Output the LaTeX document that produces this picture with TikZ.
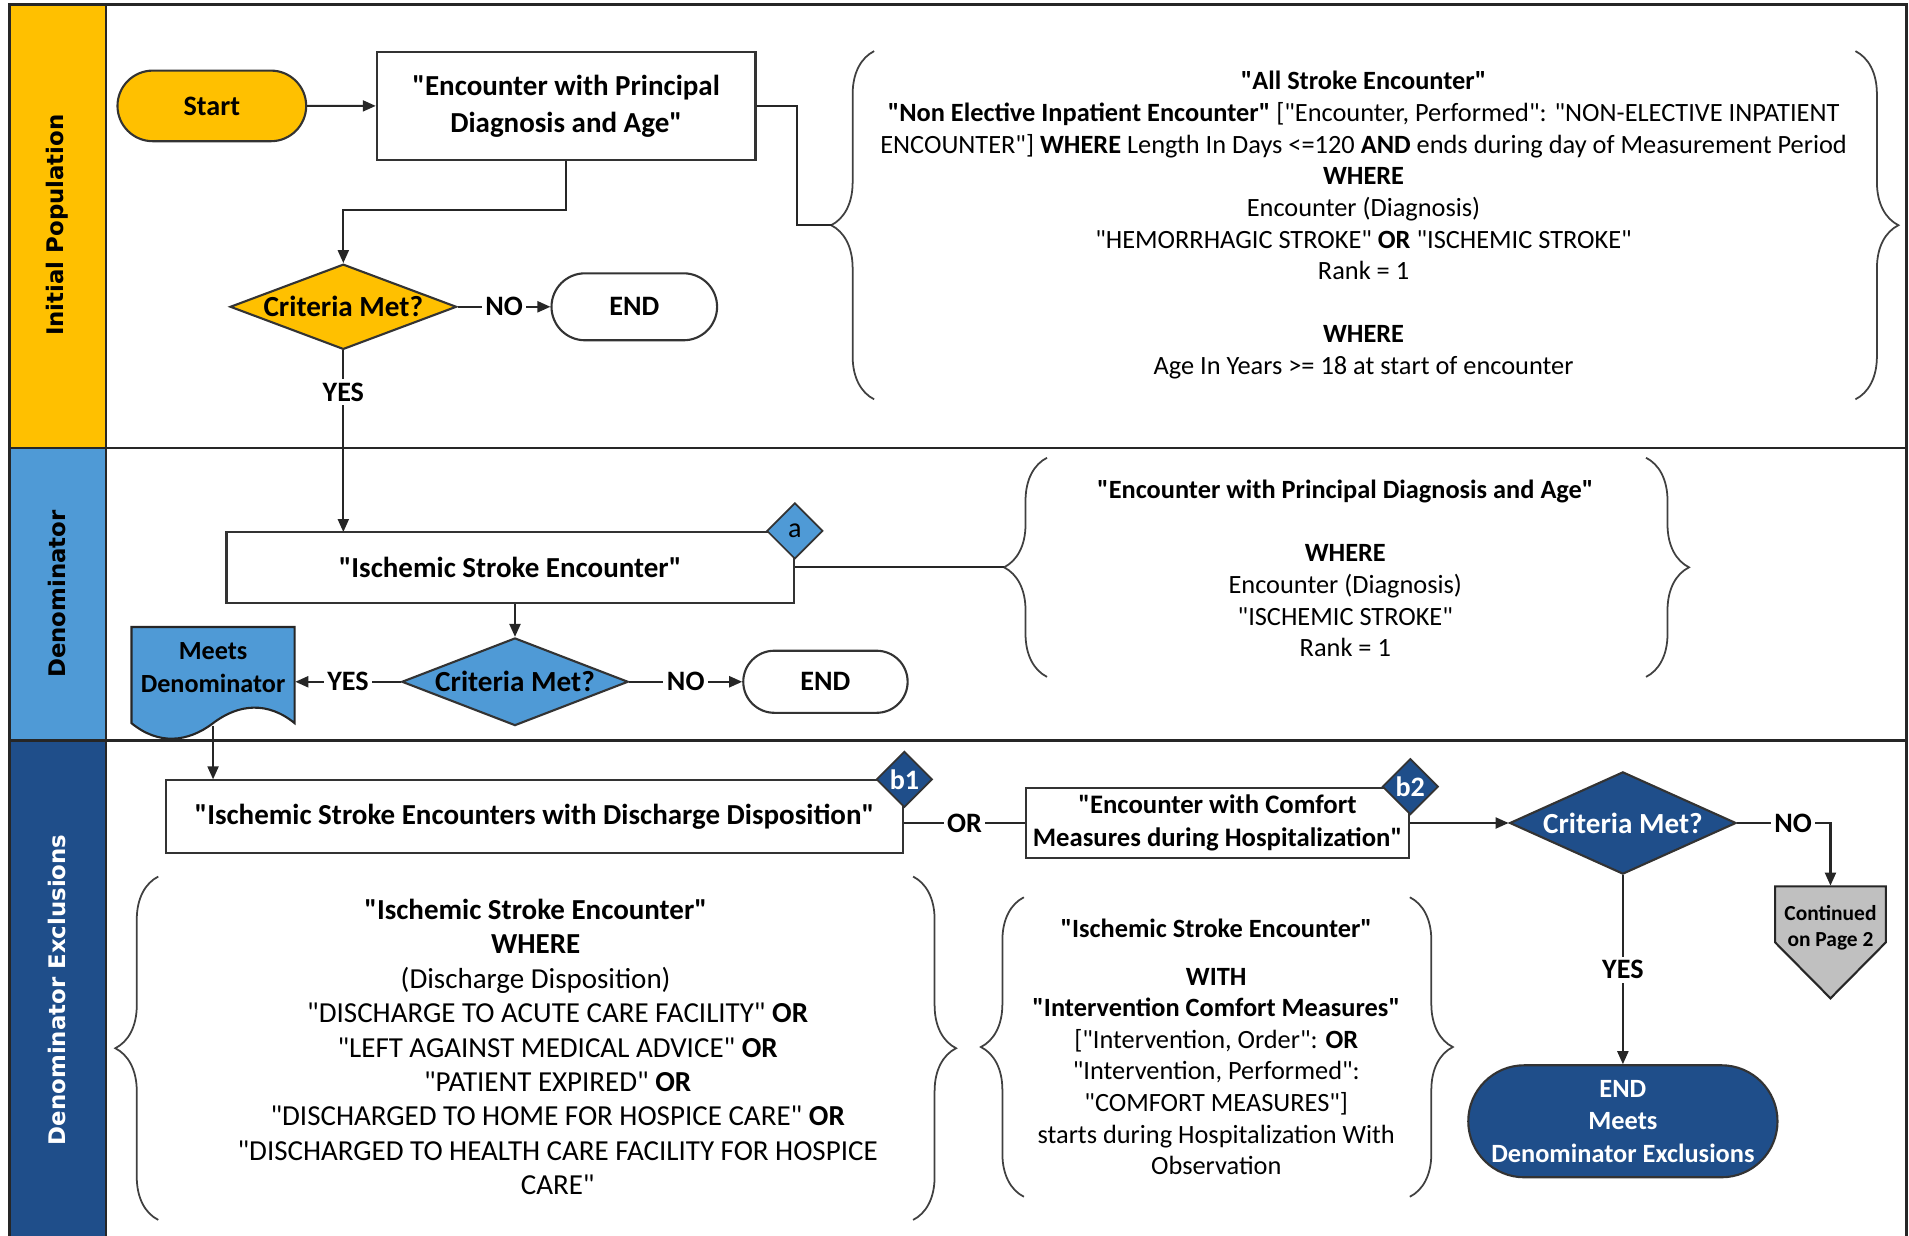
\documentclass[tikz,border=0pt]{standalone}
\usepackage{fontspec}
\setmainfont{Carlito}[Ligatures=TeXOff]
\newfontfamily\lanefont{DejaVu Sans}
\usetikzlibrary{shapes.geometric,shapes.misc,arrows.meta,decorations.pathreplacing}

\definecolor{ipyellow}{HTML}{FFC000}
\definecolor{denblue}{HTML}{4F9AD6}
\definecolor{excblue}{HTML}{1F4E8A}
\definecolor{contgray}{HTML}{C0C0C0}

\tikzset{
  box/.style={draw=black!80, line width=0.6pt, fill=white, align=center, inner sep=0pt, font=\bfseries\fontsize{8.25}{10.6}\selectfont},
  pill/.style={rounded rectangle, draw=black!80, line width=0.6pt, align=center, inner sep=0pt, font=\bfseries\fontsize{8}{9.5}\selectfont},
  decision/.style={diamond, draw=black!80, line width=0.6pt, aspect=2.6, inner sep=0pt, font=\bfseries\fontsize{8.3}{9.5}\selectfont},
  tag/.style={diamond, draw=black!80, line width=0.5pt, aspect=1, inner sep=0pt, font=\fontsize{8}{9}\selectfont},
  rule/.style={align=center, inner sep=0pt, font=\fontsize{7.5}{9}\selectfont},
  lbl/.style={fill=white, inner sep=1pt, font=\bfseries\fontsize{8}{9}\selectfont},
  lanelbl/.style={rotate=90, font=\lanefont\bfseries\fontsize{6.5}{8}\selectfont},
  lane/.style={draw=black!85, line width=0.8pt},
  flow/.style={draw=black!85, line width=0.6pt},
  arr/.style={flow, -{Triangle[length=1.3mm, width=1.1mm]}},
  lbrace/.style={draw=black!75, line width=0.5pt, decorate, decoration={brace, amplitude=0.43cm}}
}

\begin{document}
\begin{tikzpicture}[x=0.012175cm, y=-0.012175cm]
\def\pu{0.012175cm}
\def\orshift{\hspace*{0.44cm}}
\useasboundingbox (0,0) rectangle (1568,1015);

% swim lanes
\draw[lane, fill=ipyellow] (8,4) rectangle (87,368);
\draw[lane] (87,4) rectangle (1566,368);
\draw[lane, fill=denblue] (8,368) rectangle (87,608);
\draw[lane] (87,368) rectangle (1566,608);
\draw[lane, fill=excblue] (8,608) rectangle (87,1030);
\draw[lane] (87,608) rectangle (1566,1030);
\node[lanelbl] (iplane) at (47,185) {Initial Population};
\node[lanelbl] (denlane) at (47,488) {Denominator};
\node[lanelbl, text=white] (exclane) at (47,813) {Denominator Exclusions};

% initial population
\node[pill, fill=ipyellow, minimum width=155*\pu, minimum height=58*\pu] (start) at (174,87) {Start};
\node[box, minimum width=311*\pu, minimum height=89*\pu] (encdx) at (465,87) {"Encounter with Principal\\Diagnosis and Age"};
\node[decision, fill=ipyellow, minimum width=186*\pu, minimum height=70*\pu] (crit1) at (282,252) {Criteria Met?};
\node[pill, minimum width=136*\pu, minimum height=55*\pu] (end1) at (521,252) {END};
\node[rule] (ipt) at (1120,185) {\textbf{"All Stroke Encounter"}\\
\textbf{"Non Elective Inpatient Encounter"} ["Encounter, Performed": "NON-ELECTIVE INPATIENT\\
ENCOUNTER"] \textbf{WHERE} Length In Days <=120 \textbf{AND} ends during day of Measurement Period\\
\textbf{WHERE}\\
Encounter (Diagnosis)\\
"HEMORRHAGIC STROKE" \textbf{OR} "ISCHEMIC STROKE"\\
Rank = 1\\[9pt]
\textbf{WHERE}\\
Age In Years >= 18 at start of encounter};
\draw[lbrace] (718,328) -- (718,42);
\draw[lbrace] (1524,42) -- (1524,328);
\coordinate (ipbr) at (683,185);

\draw[arr] (start) -- (encdx);
\draw[flow] (encdx.east) -- ++(33,0) |- (ipbr);
\draw[arr] (encdx.south) -- ++(0,40) -| (crit1.north);
\draw[arr] (crit1.east) -- node[lbl]{NO} (end1.west);
\draw[arr] (crit1.south) -- node[lbl, pos=0.23]{YES} (crit1.south |- 0,437);

% denominator
\node[box, minimum width=466*\pu, minimum height=58*\pu] (isenc) at (419,466) {"Ischemic Stroke Encounter"};
\node[tag, fill=denblue, minimum size=46*\pu] (a) at (isenc.north east) {a};
\node[decision, fill=denblue, minimum width=186*\pu, minimum height=72*\pu] (crit2) at (423,560) {Criteria Met?};
\node[pill, minimum width=135*\pu, minimum height=51*\pu] (end2) at (678,560) {END};
\draw[flow, fill=denblue] (108,594) -- (108,515) -- (242,515) -- (242,594) .. controls (220,576) and (196,578) .. (175,594) .. controls (154,610) and (130,612) .. (108,594) -- cycle;
\node[align=center, inner sep=0pt, minimum width=134*\pu, font=\bfseries\fontsize{7.45}{9.4}\selectfont] (mden) at (175,548) {Meets\\Denominator};
\coordinate (mdenout) at (175,596);
\node[rule] (dent) at (1105,467) {\textbf{"Encounter with Principal Diagnosis and Age"}\\[9pt]
\textbf{WHERE}\\
Encounter (Diagnosis)\\
"ISCHEMIC STROKE"\\
Rank = 1};
\draw[lbrace] (860,556) -- (860,376);
\draw[lbrace] (1352,376) -- (1352,556);
\coordinate (denbr) at (825,466);

\draw[flow] (isenc.east) -- (denbr);
\draw[arr] (isenc.south -| crit2.north) -- (crit2.north);
\draw[arr] (crit2.west) -- node[lbl]{YES} (crit2.west -| mden.east);
\draw[arr] (crit2.east) -- node[lbl]{NO} (end2.west);

% denominator exclusions
\node[box, minimum width=606*\pu, minimum height=60*\pu] (isdd) at (439,671) {"Ischemic Stroke Encounters with Discharge Disposition"};
\node[tag, fill=excblue, text=white, font=\bfseries\fontsize{8}{9}\selectfont, minimum size=46*\pu] (b1) at (isdd.north east) {b1};
\node[box, font=\bfseries\fontsize{7.6}{9.4}\selectfont, minimum width=315*\pu, minimum height=58*\pu] (encc) at (1000,676) {"Encounter with Comfort\\Measures during Hospitalization"};
\node[tag, fill=excblue, text=white, font=\bfseries\fontsize{8}{9}\selectfont, minimum size=46*\pu] (b2) at (encc.north east) {b2};
\node[decision, fill=excblue, text=white, minimum width=186*\pu, minimum height=84*\pu] (crit3) at (1333,676) {Criteria Met?};
\draw[flow, fill=contgray] (1458,728) -- (1549,728) -- (1549,774) -- (1503.5,820) -- (1458,774) -- cycle;
\node[align=center, inner sep=0pt, minimum width=91*\pu, minimum height=68*\pu, font=\bfseries\fontsize{6.1}{7.5}\selectfont] (cont) at (1503.5,762) {Continued\\on Page 2};
\node[pill, fill=excblue, text=white, font=\bfseries\fontsize{7.5}{9.2}\selectfont, minimum width=254*\pu, minimum height=92*\pu] (endx) at (1333,921) {END\\Meets\\Denominator Exclusions};
\node[rule, font=\fontsize{8.25}{9.8}\selectfont] (ddt) at (440,860) {\textbf{"Ischemic Stroke Encounter"}\\
\textbf{WHERE}\\
(Discharge Disposition)\\
\orshift"DISCHARGE TO ACUTE CARE FACILITY" \textbf{OR}\\
\orshift"LEFT AGAINST MEDICAL ADVICE" \textbf{OR}\\
\orshift"PATIENT EXPIRED" \textbf{OR}\\
\orshift"DISCHARGED TO HOME FOR HOSPICE CARE" \textbf{OR}\\
\orshift"DISCHARGED TO HEALTH CARE FACILITY FOR HOSPICE\\
\orshift CARE"};
\node[rule] (cmt) at (999,860) {\textbf{"Ischemic Stroke Encounter"}\\[4.5pt]
\textbf{WITH}\\
\textbf{"Intervention Comfort Measures"}\\
{[}"Intervention, Order": \textbf{OR}\\
"Intervention, Performed":\\
"COMFORT MEASURES"]\\
starts during Hospitalization With\\
Observation};
\draw[lbrace] (130,1002) -- (130,720);
\draw[lbrace] (750,720) -- (750,1002);
\draw[lbrace] (841,983) -- (841,737);
\draw[lbrace] (1158,737) -- (1158,983);

\draw[arr] (mdenout) -- (mdenout |- isdd.north);
\draw[flow] (encc.west) -- node[lbl]{OR} (encc.west -| isdd.east);
\draw[arr] (encc.east) -- (crit3.west);
\draw[arr] (crit3.east) -| node[lbl, pos=0.3]{NO} (cont.north);
\draw[arr] (crit3.south) -- node[lbl]{YES} (endx.north);

\end{tikzpicture}
\end{document}
